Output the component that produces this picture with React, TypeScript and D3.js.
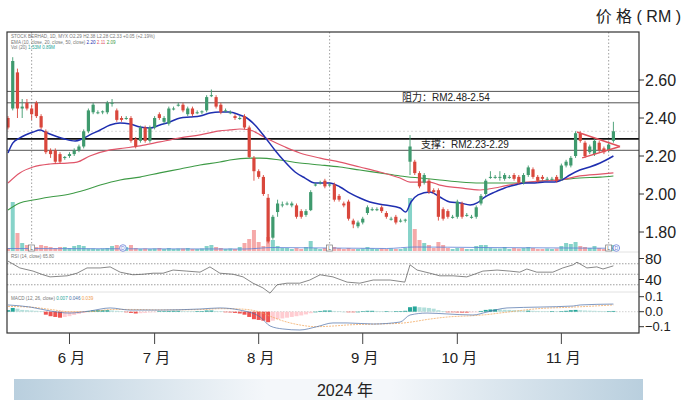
import React from "react";
import * as d3 from "d3";

// ---------- DATA ----------
const opens = [2.40,2.45,2.64,2.45,2.48,2.45,2.48,2.41,2.33,2.23,2.23,2.21,2.19,2.20,2.21,2.23,2.25,2.33,2.43,2.43,
  2.43,2.43,2.48,2.44,2.40,2.40,2.40,2.29,2.28,2.35,2.28,2.35,2.42,2.38,2.37,2.45,2.47,2.47,2.42,2.45,
  2.43,2.43,2.44,2.52,2.51,2.47,2.44,2.43,2.41,2.40,2.41,2.35,2.19,2.12,2.09,1.98,1.77,1.905,1.94,1.95,
  1.94,1.94,1.91,1.89,1.915,2.05,2.06,2.07,2.05,2.05,1.99,1.95,1.96,1.86,1.83,1.85,1.90,1.92,1.92,1.93,
  1.90,1.87,1.88,1.86,1.86,2.17,2.17,2.11,2.06,2.07,2.02,2.02,1.92,1.91,1.88,1.88,1.95,1.89,1.88,1.88,
  1.95,2.00,2.09,2.09,2.09,2.08,2.09,2.10,2.09,2.06,2.10,2.13,2.09,2.09,2.08,2.08,2.09,2.08,2.15,2.15,
  2.20,2.32,2.27,2.22,2.21,2.27,2.24,2.23,2.28];
const highs = [2.41,2.72,2.66,2.50,2.50,2.47,2.49,2.42,2.34,2.24,2.24,2.22,2.20,2.22,2.24,2.26,2.34,2.45,2.48,2.44,
  2.44,2.49,2.50,2.45,2.41,2.41,2.41,2.30,2.36,2.36,2.36,2.41,2.43,2.41,2.46,2.46,2.48,2.48,2.46,2.46,
  2.44,2.44,2.52,2.55,2.52,2.48,2.45,2.44,2.42,2.41,2.42,2.36,2.20,2.13,2.10,2.00,1.89,1.97,1.96,1.96,
  1.96,1.95,1.92,1.92,2.02,2.06,2.07,2.08,2.06,2.06,2.00,1.96,1.97,1.87,1.86,1.88,1.94,1.93,1.93,1.94,
  1.91,1.88,1.89,1.87,1.87,2.31,2.18,2.12,2.11,2.08,2.03,2.03,1.93,1.92,1.89,1.97,1.96,1.90,1.89,1.94,
  2.00,2.08,2.12,2.10,2.12,2.11,2.10,2.11,2.10,2.11,2.15,2.14,2.10,2.10,2.09,2.09,2.10,2.16,2.18,2.20,
  2.33,2.33,2.28,2.26,2.29,2.28,2.25,2.27,2.38];
const lows = [2.34,2.44,2.40,2.40,2.44,2.39,2.40,2.34,2.21,2.19,2.16,2.16,2.18,2.19,2.20,2.22,2.24,2.32,2.42,2.42,
  2.42,2.42,2.46,2.38,2.38,2.39,2.27,2.24,2.27,2.27,2.27,2.34,2.39,2.37,2.36,2.44,2.46,2.43,2.41,2.41,
  2.42,2.42,2.43,2.51,2.45,2.42,2.43,2.42,2.39,2.39,2.34,2.19,2.07,2.08,1.99,1.74,1.76,1.88,1.93,1.94,
  1.93,1.87,1.87,1.88,1.91,2.04,2.05,2.03,2.04,1.96,1.96,1.93,1.86,1.82,1.82,1.84,1.89,1.91,1.91,1.90,
  1.87,1.86,1.84,1.85,1.85,2.10,2.10,2.03,2.05,2.00,2.00,1.86,1.86,1.87,1.87,1.87,1.87,1.88,1.87,1.87,
  1.94,1.99,2.08,2.08,2.07,2.07,2.08,2.07,2.05,2.05,2.09,2.08,2.06,2.07,2.07,2.07,2.06,2.07,2.14,2.14,
  2.19,2.27,2.19,2.21,2.20,2.22,2.21,2.22,2.27];
const closes = [2.35,2.70,2.45,2.46,2.45,2.42,2.41,2.35,2.22,2.21,2.17,2.17,2.195,2.21,2.23,2.25,2.33,2.44,2.47,2.43,
  2.435,2.48,2.48,2.39,2.39,2.40,2.28,2.25,2.35,2.28,2.35,2.40,2.40,2.40,2.45,2.45,2.47,2.44,2.45,2.42,
  2.43,2.435,2.51,2.52,2.46,2.43,2.44,2.43,2.40,2.40,2.35,2.195,2.12,2.09,2.00,1.75,1.88,1.95,1.945,1.95,
  1.95,1.88,1.88,1.91,2.01,2.05,2.06,2.04,2.05,1.97,1.97,1.94,1.87,1.84,1.85,1.87,1.93,1.92,1.92,1.91,
  1.88,1.87,1.85,1.86,1.865,2.25,2.11,2.04,2.10,2.01,2.01,1.88,1.87,1.88,1.88,1.96,1.88,1.89,1.88,1.93,
  1.99,2.07,2.09,2.09,2.09,2.10,2.09,2.08,2.06,2.10,2.14,2.09,2.07,2.08,2.08,2.08,2.07,2.15,2.17,2.19,
  2.32,2.28,2.20,2.25,2.28,2.23,2.22,2.26,2.33];
const volumes = [0.6,9.8,3.6,1.6,1.2,1.0,0.8,1.2,1.0,0.8,0.6,0.8,0.8,0.6,1.0,1.2,1.0,0.5,0.5,0.4,
  0.5,0.6,1.0,1.2,1.0,0.8,1.2,0.6,0.4,0.5,0.4,0.5,0.6,0.4,0.6,0.4,0.5,0.5,0.6,0.4,
  0.4,0.5,1.0,1.2,0.8,0.6,0.4,0.5,0.4,0.8,1.6,2.4,4.2,1.8,1.0,2.8,2.2,1.0,0.6,0.6,
  0.4,0.6,0.4,0.8,2.0,0.6,0.4,0.6,0.4,0.8,0.6,0.4,0.6,0.4,0.4,0.5,0.8,0.5,0.4,0.5,
  0.4,0.5,0.4,0.4,0.6,10.6,4.4,2.2,1.6,1.2,0.6,1.8,1.2,0.6,0.4,0.6,0.6,0.4,0.4,1.0,
  1.2,1.2,0.6,0.5,0.5,0.8,0.4,0.6,0.5,0.6,0.8,0.6,0.4,0.4,0.5,0.4,0.5,1.0,1.6,1.4,
  1.8,1.0,0.8,0.6,1.0,0.6,0.4,0.6,1.2];
const macdHist = [0.01,0.025,0.02,0.012,0.01,0.008,0.006,0.004,-0.02,-0.03,-0.035,-0.04,-0.035,-0.03,-0.022,-0.015,-0.008,0.004,0.008,0.01,
  0.01,0.01,0.008,0.006,0.003,-0.002,-0.008,-0.012,-0.01,-0.008,-0.005,-0.002,0.002,0.003,0.005,0.006,0.006,0.004,0.003,0.002,
  0.002,0.004,0.008,0.008,0.005,0.002,-0.003,-0.005,-0.008,-0.012,-0.02,-0.035,-0.05,-0.055,-0.06,-0.07,-0.06,-0.05,-0.045,-0.04,
  -0.035,-0.03,-0.025,-0.018,-0.01,0.0,0.005,0.008,0.008,0.005,0.002,0.0,-0.002,-0.002,0.0,0.004,0.006,0.006,0.005,0.004,
  0.004,0.003,0.003,0.004,0.006,0.03,0.035,0.03,0.028,0.025,0.02,0.01,0.004,-0.002,-0.004,-0.005,-0.006,-0.006,-0.005,-0.003,
  0.005,0.012,0.015,0.016,0.015,0.013,0.012,0.01,0.008,0.007,0.007,0.006,0.005,0.004,0.003,0.003,0.002,0.004,0.006,0.01,
  0.012,0.01,0.008,0.007,0.006,0.005,0.004,0.004,0.005];

// moving averages: [candle index, price]
const blueMA = [[0,2.216],[1,2.268],[2.5,2.295],[5.3,2.326],[6.8,2.337],[7.8,2.326],[10,2.305],[12,2.289],[14.2,2.279],[15.6,2.289],
  [17.3,2.311],[19.5,2.337],[21.6,2.363],[23.7,2.374],[25.8,2.368],[27.9,2.353],[30,2.347],[32.1,2.363],[34.2,2.379],[36.4,2.40],
  [38.5,2.405],[40.6,2.41],[42.7,2.426],[44.8,2.432],[46.7,2.432],[49,2.416],[50.5,2.40],[52.2,2.363],[54.3,2.30],[56.4,2.232],
  [58.6,2.168],[60.7,2.116],[62.8,2.084],[64.9,2.058],[68,2.058],[70.2,2.037],[72.3,2.005],[74.4,1.979],[76.5,1.958],[79.7,1.942],
  [82.9,1.926],[84.1,1.905],[85.2,1.958],[86.7,1.995],[89.2,2.011],[91.3,1.984],[93.4,1.958],[95.6,1.953],[97.7,1.942],[99.2,1.953],
  [100.8,1.984],[103,2.011],[105,2.032],[107.2,2.047],[109.3,2.058],[111.4,2.058],[113.5,2.063],[115.6,2.063],[117.1,2.074],[118.8,2.10],
  [120.9,2.126],[123,2.142],[125.2,2.163],[128,2.20]];
const redMA = [[0,2.058],[2.5,2.111],[5.3,2.142],[8.9,2.158],[12.5,2.163],[14.6,2.168],[17.3,2.20],[21.6,2.232],[24.7,2.242],[27.9,2.253],
  [32.1,2.274],[36.4,2.295],[40.6,2.311],[44.8,2.332],[46.9,2.337],[49,2.342],[51.2,2.337],[53.3,2.311],[55.4,2.284],[58.6,2.247],
  [61.7,2.216],[66,2.189],[70.2,2.168],[74.4,2.142],[78.6,2.116],[82.9,2.084],[85,2.063],[87.1,2.063],[89.2,2.063],[91.3,2.047],
  [95.6,2.032],[99.8,2.021],[104,2.037],[108.2,2.058],[112.5,2.068],[116.7,2.074],[120.9,2.095],[125.2,2.105],[128,2.111]];
const greenMA = [[0,1.916],[2.5,1.953],[5.3,1.968],[8.9,1.984],[13.1,2.0],[16.3,2.021],[19.5,2.047],[23.7,2.074],[27.9,2.089],[32.1,2.111],
  [36.4,2.132],[40.6,2.153],[44.8,2.168],[46.9,2.179],[51.2,2.189],[53.3,2.189],[57.5,2.179],[61.7,2.163],[66,2.153],[70.2,2.142],
  [74.4,2.126],[78.6,2.111],[82.9,2.095],[87.1,2.084],[91.3,2.074],[95.6,2.063],[99.8,2.058],[104,2.058],[108.2,2.058],[112.5,2.068],
  [116.7,2.074],[120.9,2.084],[125.2,2.089],[128,2.095]];
const volMA = [[0,0.5],[20,0.45],[50,0.4],[56,0.7],[80,0.5],[86,0.8],[100,0.7],[128,0.55]];
const rsiPts = [[0,75],[2.5,62],[5.3,56],[7.4,49],[8.9,45],[12.5,47],[14.6,52],[16.7,62],[19.5,62],[21.6,64],
  [23.7,54],[26.4,49],[28.5,50],[30.7,52],[32.8,52],[34.9,58],[37.8,56],[40.6,54],[42.7,64],[44.8,52],
  [47.6,50],[49.7,45],[51.8,33],[53.9,24],[55.4,14],[56.9,30],[59,33],[61.7,33],[63.8,39],[66,49],
  [68.7,45],[71.7,35],[74.4,33],[77.2,39],[80.8,39],[83.9,35],[85,68],[86.5,58],[89.2,52],[91.3,47],
  [94.1,47],[97,45],[98.3,49],[100.4,56],[103.4,58],[106.1,56],[108.2,54],[109.7,60],[111.8,54],[115.2,54],
  [117.3,62],[119.5,68],[120.3,73],[122.4,62],[124.5,64],[125.8,60],[128,66]];
const macdPts = [[0,0.045],[4.7,0.031],[8.9,0.005],[13,-0.009],[17.3,0.005],[21.6,0.025],[25.8,0.011],[32.1,0.011],[40.6,0.018],[44.8,0.025],
  [49,0.011],[53.3,-0.035],[55.4,-0.095],[58.1,-0.115],[61.7,-0.122],[65.3,-0.10],[68.7,-0.075],[71.7,-0.075],[77.2,-0.082],[82.9,-0.069],
  [85,-0.022],[88.6,-0.009],[92.8,-0.015],[98.3,-0.022],[101.3,-0.002],[105.5,0.025],[112.5,0.031],[119.5,0.038],[121,0.045],[128,0.051]];
const signalPts = [[0,0.035],[5,0.03],[9,0.015],[13,0.0],[17,0.0],[22,0.015],[26,0.015],[32,0.012],[41,0.014],[45,0.02],
  [49,0.018],[53,0.0],[55.4,-0.03],[58,-0.06],[62,-0.09],[65,-0.10],[69,-0.095],[72,-0.088],[77,-0.083],[83,-0.077],
  [85,-0.07],[89,-0.05],[93,-0.035],[98,-0.027],[101,-0.02],[105,-0.005],[112,0.02],[119,0.03],[121,0.033],[128,0.045]];

const monthIdx = [13, 31, 53, 75, 95, 117];
const monthLabels = ["6 月", "7 月", "8 月", "9 月", "10 月", "11 月"];
const priceTicks = [1.8, 2.0, 2.2, 2.4, 2.6];
const rsiTicks = [40, 80];
const rsiLevels = [30, 50, 70];
const macdTicks = [0.1, 0.0, -0.1];
const resistance = [2.48, 2.54];
const support = [2.23, 2.29];
const lastPrice = 2.33;
const eventIdx = [5, 68, 127];
const divIdx = [24.3, 128.2];
const triUpper = [[120.3, 2.326], [129.4, 2.25]];
const triLower = [[121.4, 2.19], [129.4, 2.25]];

// ---------- LAYOUT ----------
const W = 690, H = 410;
const L = 7, R = 639, T = 32, B = 333;
const GREEN = "#3f9a6e", RED = "#d9473c";

export default function App() {
  const N = closes.length;
  const x = d3.scaleLinear().domain([0, N - 1]).range([8, 613.4]);
  const y = d3.scaleLinear().domain([1.8, 2.6]).range([232, 80]);
  const yv = d3.scaleLinear().domain([0, 10]).range([251, 201]);
  const yr = d3.scaleLinear().domain([40, 80]).range([279.5, 258.5]);
  const ym = d3.scaleLinear().domain([-0.1, 0.1]).range([326.7, 296.7]);

  const lineP = d3.line<number[]>().x(d => x(d[0])).y(d => y(d[1])).curve(d3.curveMonotoneX);
  const lineV = d3.line<number[]>().x(d => x(d[0])).y(d => yv(d[1])).curve(d3.curveMonotoneX);
  const lineR = d3.line<number[]>().x(d => x(d[0])).y(d => yr(d[1])).curve(d3.curveLinear);
  const lineM = d3.line<number[]>().x(d => x(d[0])).y(d => ym(d[1])).curve(d3.curveMonotoneX);
  const straight = d3.line<number[]>().x(d => x(d[0])).y(d => y(d[1]));

  const bw = 3.2;
  const font = "'Liberation Sans', Arial, 'Noto Sans CJK SC', sans-serif";

  const histColor = (i: number) => {
    const v = macdHist[i];
    const p = i > 0 ? macdHist[i - 1] : 0;
    if (v >= 0) return v >= p ? "#26a69a" : "#b2dfdb";
    return v <= p ? "#ef5350" : "#ffcdd2";
  };

  return (
    <svg width={W} height={H} style={{ position: "fixed", left: 0, top: 0, background: "#fff" }} fontFamily={font}>
      <defs>
        <clipPath id="mainClip"><rect x={L} y={T} width={R - L} height={252 - T} /></clipPath>
        <clipPath id="allClip"><rect x={L} y={T} width={R - L} height={B - T} /></clipPath>
        <linearGradient id="band" x1="0" x2="1" y1="0" y2="0">
          <stop offset="0" stopColor="#b9cfde" />
          <stop offset="0.4" stopColor="#f4f7fa" />
          <stop offset="0.6" stopColor="#f4f7fa" />
          <stop offset="1" stopColor="#b9cfde" />
        </linearGradient>
      </defs>

      {/* title */}
      <text x={681} y={22} textAnchor="end" fontSize={16} fill="#222">价 格 ( RM )</text>

      {/* panel separators */}
      <line x1={L} x2={R} y1={252} y2={252} stroke="#e2e2e2" />
      <line x1={L} x2={R} y1={292} y2={292} stroke="#e2e2e2" />

      <g clipPath="url(#mainClip)">
        {/* volume */}
        {volumes.map((v, i) => (
          <rect key={"v" + i} x={x(i) - 2} y={yv(v)} width={4} height={yv(0) - yv(v)}
            fill={closes[i] >= opens[i] ? "#86d3c9" : "#f5a9a9"} />
        ))}
        <path d={lineV(volMA) || ""} fill="none" stroke="#5a7fd6" strokeWidth={0.8} />

        {/* event dotted verticals */}
        {eventIdx.map((e, k) => (
          <line key={"e" + k} x1={x(e)} x2={x(e)} y1={T} y2={250} stroke="#888" strokeDasharray="1.5,2" strokeWidth={0.8} />
        ))}

        {/* horizontal levels */}
        <line x1={L} x2={R} y1={y(lastPrice)} y2={y(lastPrice)} stroke="#cfcfcf" strokeDasharray="2,2" strokeWidth={0.8} />
        {resistance.map((r, k) => (
          <line key={"r" + k} x1={L} x2={R} y1={y(r)} y2={y(r)} stroke="#555" strokeWidth={1} />
        ))}
        <line x1={L} x2={R} y1={y(support[1])} y2={y(support[1])} stroke="#111" strokeWidth={1.8} />
        <line x1={L} x2={R} y1={y(support[0])} y2={y(support[0])} stroke="#555" strokeWidth={1} />

        {/* MAs */}
        <path d={lineP(greenMA) || ""} fill="none" stroke="#3d9a45" strokeWidth={1.1} />
        <path d={lineP(redMA) || ""} fill="none" stroke="#e0566a" strokeWidth={1.2} />
        <path d={lineP(blueMA) || ""} fill="none" stroke="#1f2fb0" strokeWidth={1.5} />

        {/* candles */}
        {closes.map((c, i) => {
          const o = opens[i];
          const up = c >= o;
          const col = up ? GREEN : RED;
          const top = y(Math.max(o, c));
          const h = Math.max(1, Math.abs(y(o) - y(c)));
          return (
            <g key={"c" + i}>
              <line x1={x(i)} x2={x(i)} y1={y(highs[i])} y2={y(lows[i])} stroke={col} strokeWidth={0.9} />
              <rect x={x(i) - bw / 2} y={top} width={bw} height={h} fill={col} />
            </g>
          );
        })}

        {/* triangle */}
        <path d={straight(triUpper) || ""} fill="none" stroke="#e0505a" strokeWidth={1.5} />
        <path d={straight(triLower) || ""} fill="none" stroke="#e0505a" strokeWidth={1.5} />

        {/* markers */}
        {eventIdx.map((e, k) => (
          <g key={"m" + k}>
            <rect x={x(e) - 3} y={245} width={6} height={6} fill="#fff" stroke="#777" strokeWidth={0.7} />
            <text x={x(e)} y={250} fontSize={5} textAnchor="middle" fill="#555">L</text>
          </g>
        ))}
        {divIdx.map((e, k) => (
          <g key={"d" + k}>
            <circle cx={x(e) + (k === 1 ? 2 : 0)} cy={248} r={3.3} fill="#fff" stroke="#6b7fd8" strokeWidth={0.8} />
            <text x={x(e) + (k === 1 ? 2 : 0)} y={250} fontSize={5} textAnchor="middle" fill="#6b7fd8">D</text>
          </g>
        ))}
      </g>

      {/* level labels */}
      <text x={402} y={y((resistance[0] + resistance[1]) / 2) + 3.5} fontSize={10} fill="#222">阻力：RM2.48-2.54</text>
      <text x={421} y={y((support[0] + support[1]) / 2) + 3.5} fontSize={10} fill="#222">支撑：RM2.23-2.29</text>

      {/* legend text (tiny) */}
      <text x={11} y={38} fontSize={4.6} fill="#777">STOCK BERHAD, 1D, MYX  O2.29 H2.38 L2.28 C2.33 +0.05 (+2.19%)</text>
      <text x={11} y={43.5} fontSize={4.6} fill="#777">EMA (10, close, 20, close, 50, close)
        <tspan fill="#1f2fb0"> 2.20</tspan><tspan fill="#e0566a"> 2.11</tspan><tspan fill="#3d9a45"> 2.09</tspan></text>
      <text x={11} y={49} fontSize={4.6} fill="#777">Vol (20) <tspan fill="#26a69a">1.53M 0.89M</tspan></text>

      {/* RSI panel */}
      <g clipPath="url(#allClip)">
        {rsiLevels.map((lv, k) => (
          <line key={"rl" + k} x1={L} x2={R} y1={yr(lv)} y2={yr(lv)} stroke="#888" strokeDasharray="1.5,1.5" strokeWidth={0.8} />
        ))}
        <path d={lineR(rsiPts) || ""} fill="none" stroke="#555" strokeWidth={0.7} />
        <text x={11} y={258} fontSize={4.6} fill="#777">RSI (14, close)  65.80</text>

        {/* MACD panel */}
        <line x1={L} x2={R} y1={ym(0)} y2={ym(0)} stroke="#bbb" strokeDasharray="1.5,1.5" strokeWidth={0.7} />
        {macdHist.map((v, i) => (
          <rect key={"h" + i} x={x(i) - 2} y={Math.min(ym(v), ym(0))} width={4}
            height={Math.max(0.6, Math.abs(ym(v) - ym(0)))} fill={histColor(i)} />
        ))}
        <path d={lineM(signalPts) || ""} fill="none" stroke="#f0a050" strokeWidth={0.7} strokeDasharray="2,1" />
        <path d={lineM(macdPts) || ""} fill="none" stroke="#4a6fa8" strokeWidth={0.7} />
        <text x={11} y={300} fontSize={4.6} fill="#777">MACD (12, 26, close)
          <tspan fill="#26a69a"> 0.007</tspan><tspan fill="#4a6fa8"> 0.046</tspan><tspan fill="#f0a050"> 0.039</tspan></text>
      </g>

      {/* frame */}
      <rect x={L} y={T} width={R - L} height={B - T} fill="none" stroke="#333" strokeWidth={1.2} />

      {/* right axis */}
      {priceTicks.map((t, k) => (
        <g key={"pt" + k}>
          <line x1={R} x2={R + 5} y1={y(t)} y2={y(t)} stroke="#333" />
          <text x={R + 6} y={y(t)} dy="0.36em" fontSize={16} fill="#222">{t.toFixed(2)}</text>
        </g>
      ))}
      {rsiTicks.map((t, k) => (
        <g key={"rt" + k}>
          <line x1={R} x2={R + 5} y1={yr(t)} y2={yr(t)} stroke="#333" />
          <text x={R + 6} y={yr(t)} dy="0.36em" fontSize={15} fill="#222">{t}</text>
        </g>
      ))}
      {macdTicks.map((t, k) => (
        <g key={"mt" + k}>
          <line x1={R} x2={R + 5} y1={ym(t)} y2={ym(t)} stroke="#333" />
          <text x={R + 6} y={ym(t)} dy="0.36em" fontSize={13} fill="#222">{t < 0 ? "−" + Math.abs(t).toFixed(1) : t.toFixed(1)}</text>
        </g>
      ))}

      {/* month axis */}
      {monthIdx.map((m, k) => (
        <g key={"mo" + k}>
          <line x1={x(m)} x2={x(m)} y1={B} y2={B + 11} stroke="#444" />
          <text x={x(m) + 2} y={363} textAnchor="middle" fontSize={15} fill="#222">{monthLabels[k]}</text>
        </g>
      ))}

      {/* year band */}
      <rect x={14} y={379} width={629} height={21} fill="url(#band)" />
      <text x={345} y={396} textAnchor="middle" fontSize={16} fill="#222">2024 年</text>
    </svg>
  );
}
